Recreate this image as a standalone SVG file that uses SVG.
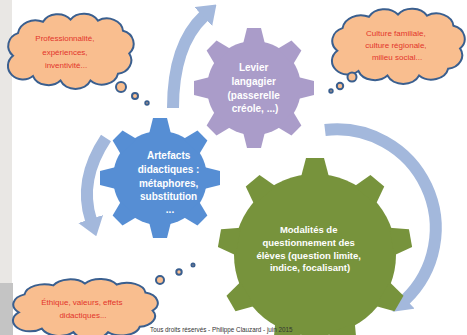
<svg xmlns="http://www.w3.org/2000/svg" xmlns:xlink="http://www.w3.org/1999/xlink" width="467" height="335" viewBox="0 0 467 335">
<style>
.cloud{fill:#F9BE8F;stroke:#3A5F8F;stroke-width:2;}
.ctext{font-family:"Liberation Sans",Arial,sans-serif;font-size:8px;fill:#E3352B;text-anchor:middle;}
.gtext{font-family:"Liberation Sans",Arial,sans-serif;font-weight:bold;fill:#FFFFFF;text-anchor:middle;}
.arrow{fill:none;stroke:#A3B8DC;stroke-width:12;marker-end:url(#ah);}
.copy{font-family:"Liberation Sans",Arial,sans-serif;font-size:6.3px;fill:#333333;}
</style>
<defs>
<marker id="ah" markerUnits="userSpaceOnUse" viewBox="0 0 18 26" markerWidth="18" markerHeight="26" refX="1" refY="13" orient="auto">
<path d="M0,0 L18,13 L0,26 z" fill="#A3B8DC"/>
</marker>
<polygon id="t8" points="-11,-44 11,-44 7,-60 -7,-60"/>
<polygon id="t9" points="-14,-78 14,-78 9,-97 -9,-97"/>
<path id="cl" vector-effect="non-scaling-stroke" d="M4,36 A12,12 0 0 1 8,16 A14,13 0 0 1 28,6 A13,12 0 0 1 50,4 A13,12 0 0 1 72,5 A13,12 0 0 1 92,14 A12,12 0 0 1 97,34 A12,12 0 0 1 88,52 A13,12 0 0 1 66,58 A13,12 0 0 1 42,58 A13,12 0 0 1 20,54 A12,12 0 0 1 4,36 Z"/>
</defs>
<rect x="0" y="0" width="467" height="335" fill="#FFFFFF"/>
<rect x="0" y="0" width="12" height="283" fill="#E9E7E4"/>
<rect x="0" y="283" width="13" height="52" fill="#C4C4C4"/>

<g id="connectors">
<path class="arrow" d="M173,108 Q173,45 204,16"/>
<path class="arrow" d="M325,130 A99,99 0 0 1 405,300"/>
<path class="arrow" d="M106,138 Q78,180 91,220"/>
</g>

<g id="node-levier">
<g transform="translate(254,88)" fill="#AA9CC9">
<circle r="47"/>
<use xlink:href="#t8"/>
<use xlink:href="#t8" transform="rotate(45)"/>
<use xlink:href="#t8" transform="rotate(90)"/>
<use xlink:href="#t8" transform="rotate(135)"/>
<use xlink:href="#t8" transform="rotate(180)"/>
<use xlink:href="#t8" transform="rotate(225)"/>
<use xlink:href="#t8" transform="rotate(270)"/>
<use xlink:href="#t8" transform="rotate(315)"/>
</g>
<text class="gtext" font-size="10">
<tspan x="255" y="71">Levier</tspan>
<tspan x="255" y="85">langagier</tspan>
<tspan x="255" y="99">(passerelle</tspan>
<tspan x="255" y="112">créole, ...)</tspan>
</text>
</g>

<g id="node-artefacts">
<g transform="translate(160,178)" fill="#568ED4">
<circle r="47"/>
<use xlink:href="#t8"/>
<use xlink:href="#t8" transform="rotate(45)"/>
<use xlink:href="#t8" transform="rotate(90)"/>
<use xlink:href="#t8" transform="rotate(135)"/>
<use xlink:href="#t8" transform="rotate(180)"/>
<use xlink:href="#t8" transform="rotate(225)"/>
<use xlink:href="#t8" transform="rotate(270)"/>
<use xlink:href="#t8" transform="rotate(315)"/>
</g>
<text class="gtext" font-size="10">
<tspan x="170" y="159">Artefacts</tspan>
<tspan x="170" y="173">didactiques :</tspan>
<tspan x="170" y="187">métaphores,</tspan>
<tspan x="170" y="200">substitution</tspan>
<tspan x="170" y="213">...</tspan>
</text>
</g>

<g id="node-modalites">
<g transform="translate(315,255)" fill="#77933C">
<circle r="81"/>
<use xlink:href="#t9"/>
<use xlink:href="#t9" transform="rotate(40)"/>
<use xlink:href="#t9" transform="rotate(80)"/>
<use xlink:href="#t9" transform="rotate(120)"/>
<use xlink:href="#t9" transform="rotate(160)"/>
<use xlink:href="#t9" transform="rotate(200)"/>
<use xlink:href="#t9" transform="rotate(240)"/>
<use xlink:href="#t9" transform="rotate(280)"/>
<use xlink:href="#t9" transform="rotate(320)"/>
</g>
<text class="gtext" font-size="9.5">
<tspan x="310" y="233">Modalités de</tspan>
<tspan x="310" y="246">questionnement des</tspan>
<tspan x="310" y="259">élèves (question limite,</tspan>
<tspan x="310" y="271">indice, focalisant)</tspan>
</text>
</g>

<g id="cloud-professionnalite">
<use xlink:href="#cl" class="cloud" transform="translate(8,15) scale(1.25,1.13)"/>
<circle class="cloud" cx="121" cy="87" r="5"/>
<circle class="cloud" cx="135" cy="96" r="3"/>
<circle class="cloud" cx="147" cy="103" r="1.7"/>
<text class="ctext">
<tspan x="66" y="41">Professionnalité,</tspan>
<tspan x="66" y="55">expériences,</tspan>
<tspan x="66" y="68">inventivité...</tspan>
</text>
</g>

<g id="cloud-culture">
<use xlink:href="#cl" class="cloud" transform="translate(332,10) scale(1.32,1.13)"/>
<circle class="cloud" cx="352" cy="77" r="4.5"/>
<circle class="cloud" cx="340" cy="86" r="3.2"/>
<circle class="cloud" cx="331" cy="91" r="1.7"/>
<text class="ctext">
<tspan x="397" y="36">Culture familiale,</tspan>
<tspan x="397" y="48">culture régionale,</tspan>
<tspan x="397" y="60">milieu social...</tspan>
</text>
</g>

<g id="cloud-ethique">
<use xlink:href="#cl" class="cloud" transform="translate(13,280) scale(1.44,0.9)"/>
<circle class="cloud" cx="160" cy="280" r="4"/>
<circle class="cloud" cx="179" cy="272" r="2.7"/>
<circle class="cloud" cx="193" cy="265" r="1.5"/>
<text class="ctext">
<tspan x="83" y="305">Éthique, valeurs, effets</tspan>
<tspan x="83" y="318">didactiques...</tspan>
</text>
</g>

<text class="copy" x="150" y="332">Tous droits réservés - Philippe Clauzard - juin 2015</text>
</svg>
